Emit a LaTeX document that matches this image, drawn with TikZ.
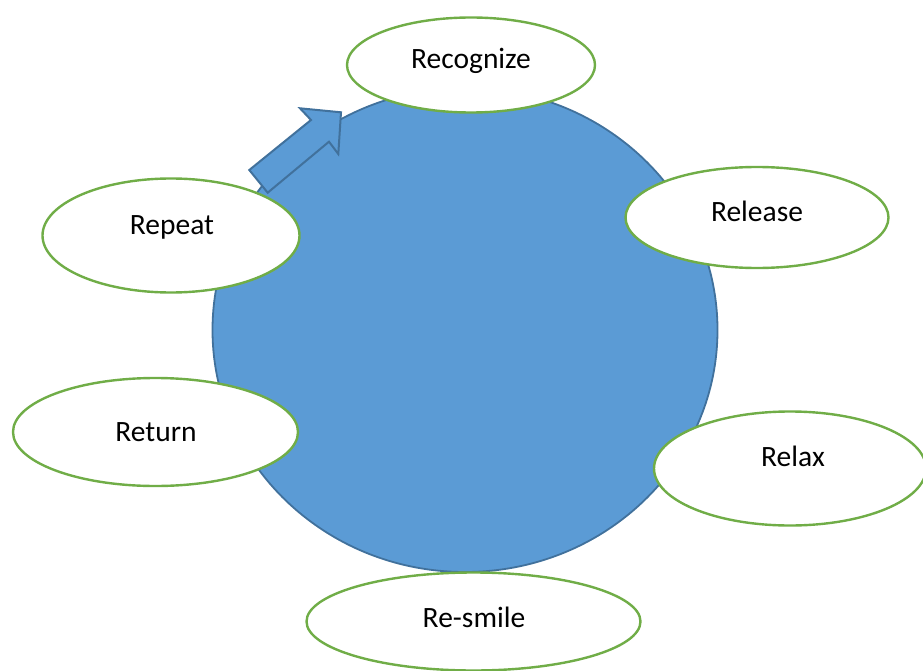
\documentclass[tikz,border=0pt]{standalone}
\usepackage{fontspec}
\setmainfont{Carlito}
\usetikzlibrary{shapes.geometric}
\definecolor{cfill}{HTML}{5B9BD5}
\definecolor{cline}{HTML}{41719C}
\definecolor{egreen}{HTML}{70AD47}
\begin{document}
\begin{tikzpicture}[x=1pt,y=-1pt,
  oval/.style={ellipse, draw=egreen, line width=2.4pt, fill=white, inner sep=0pt},
  lbl/.style={anchor=base, font=\fontsize{29.5}{34}\selectfont, text=black, inner sep=0pt}]
\useasboundingbox (0,0) rectangle (923,671);
\begin{scope}
\clip (0,0) rectangle (923,671);
% big circle
\node (hub) [ellipse, draw=cline, line width=1.8pt, fill=cfill, minimum width=505pt, minimum height=484pt, inner sep=0pt] at (465,330) {};
% block arrow
\draw[fill=cfill, draw=cline, line width=2pt, line join=miter]
  (249.3,170) -- (311,120) -- (300,108.3) -- (341,112.3) -- (338.3,154) -- (329,141.7) -- (267.7,192.7) -- cycle;
% ellipses
\node (recognize) [oval, minimum width=248pt, minimum height=95pt] at (471,65) {};
\node (release) [oval, minimum width=263pt, minimum height=101pt] at (757,217.5) {};
\node (repeat) [oval, minimum width=257pt, minimum height=114pt] at (171,235.5) {};
\node (return) [oval, minimum width=285pt, minimum height=108pt] at (155.5,432) {};
\node (relax) [oval, minimum width=272pt, minimum height=114pt] at (790,468.5) {};
\node (resmile) [oval, minimum width=334pt, minimum height=98pt] at (473.5,621.5) {};
\end{scope}
% labels
\node (t1) [lbl] at (471,68.5) {Recognize};
\node (t2) [lbl] at (757,222) {Release};
\node (t3) [lbl] at (172,234) {Repeat};
\node (t4) [lbl] at (156,441) {Return};
\node (t5) [lbl] at (793,466) {Relax};
\node (t6) [lbl] at (474,627.5) {Re-smile};
\end{tikzpicture}
\end{document}
